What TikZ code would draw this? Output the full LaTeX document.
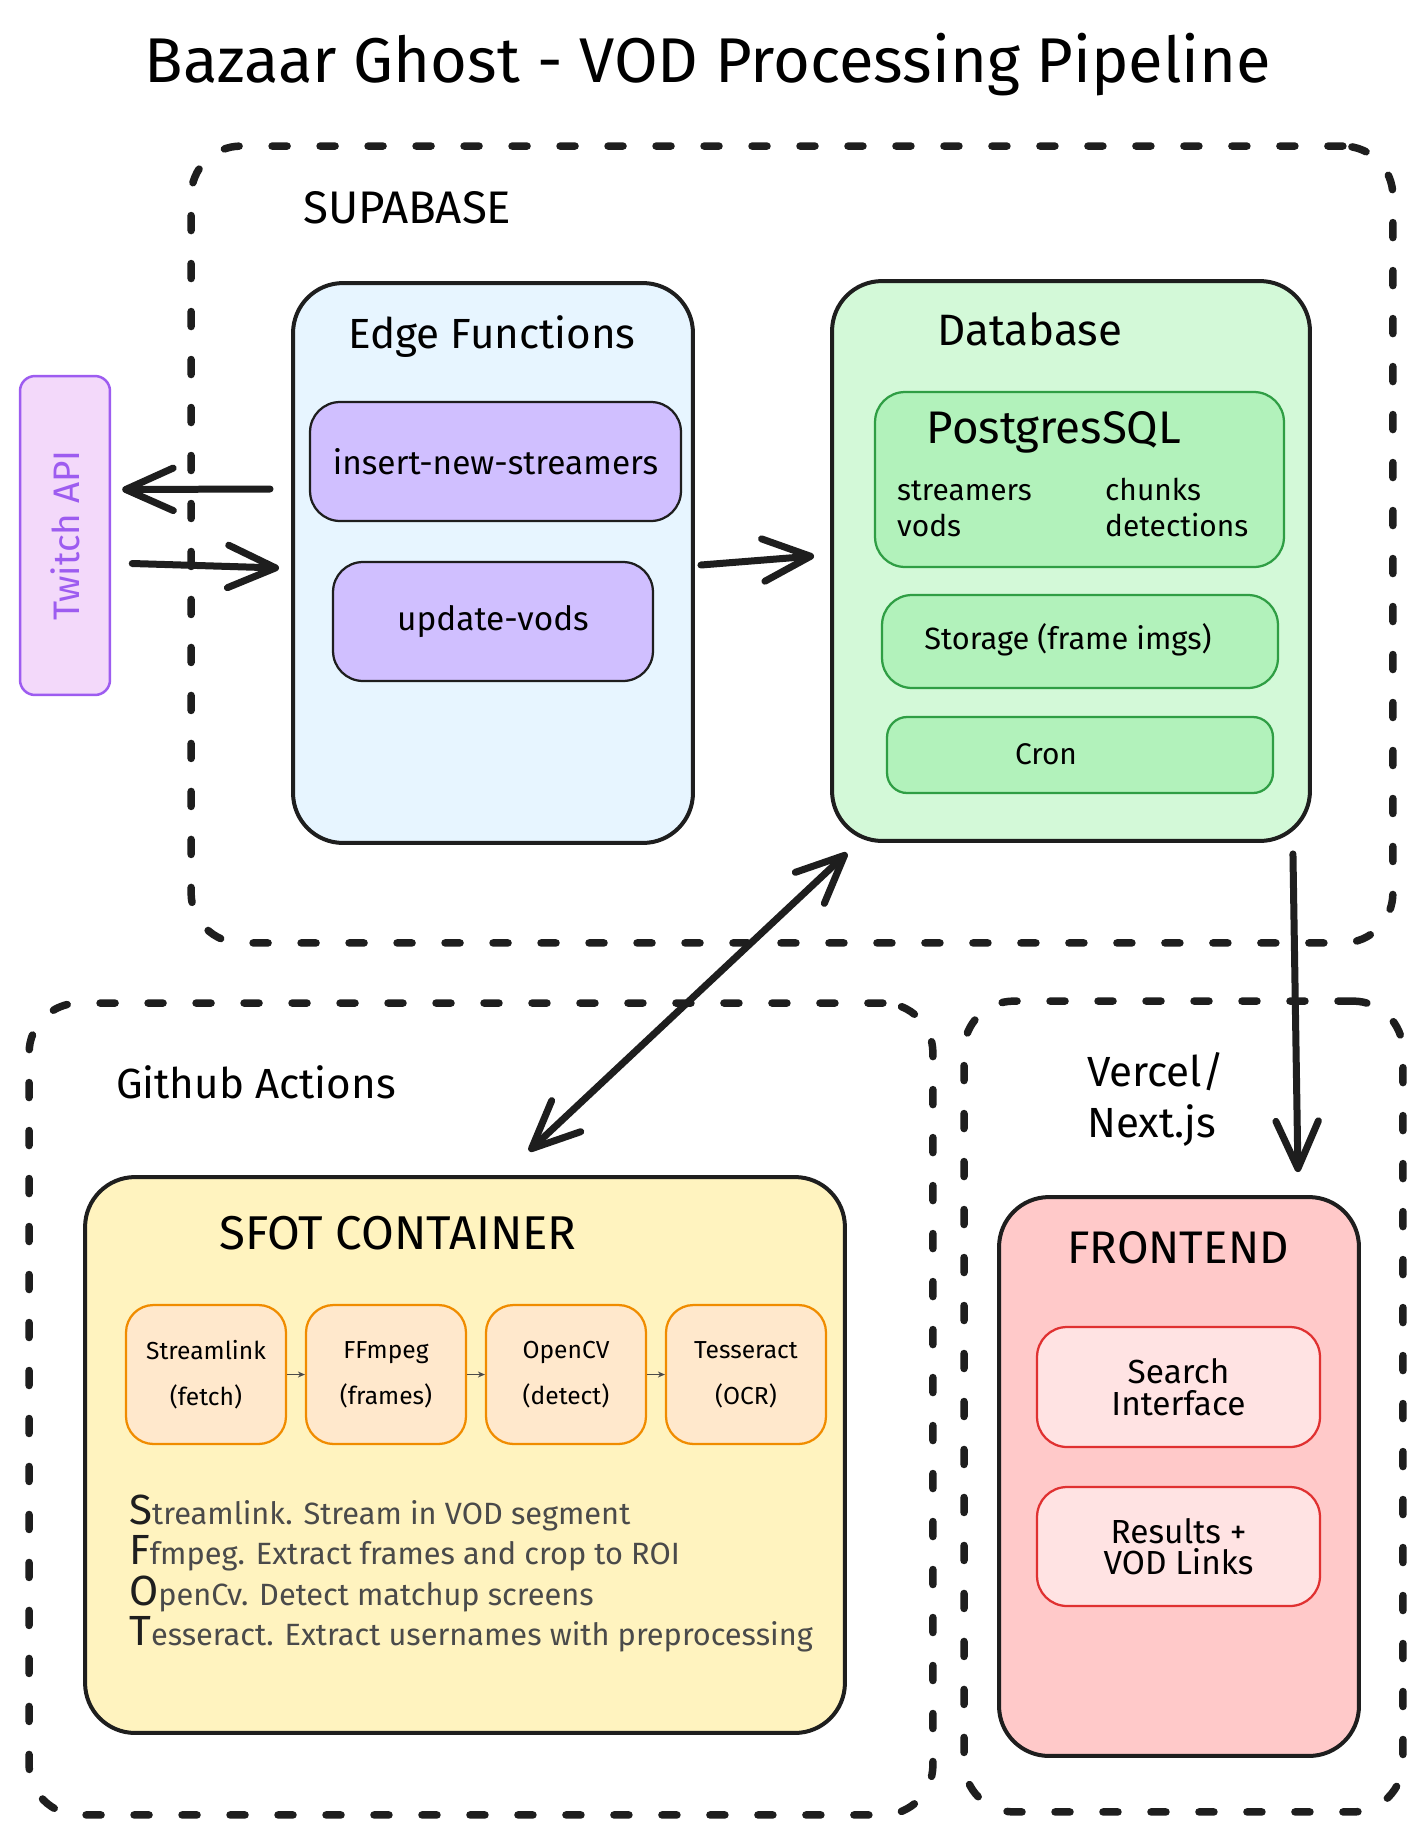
\documentclass[tikz,border=0pt]{standalone}
\usepackage{fontspec}
\setmainfont{Fira Sans}
\usetikzlibrary{arrows.meta,positioning}

\definecolor{inkblack}{HTML}{1E1E1E}
\definecolor{notegray}{HTML}{4A4A4A}
\definecolor{edgeblue}{HTML}{E7F5FF}
\definecolor{fnviolet}{HTML}{D0BFFF}
\definecolor{twitchfill}{HTML}{F3D9FA}
\definecolor{twitchline}{HTML}{9D5CF0}
\definecolor{dbgreen}{HTML}{D3F9D8}
\definecolor{tblgreen}{HTML}{B2F2BB}
\definecolor{tblline}{HTML}{2F9E44}
\definecolor{sfotyellow}{HTML}{FFF3BF}
\definecolor{stagefill}{HTML}{FFE8CC}
\definecolor{stageline}{HTML}{F08C00}
\definecolor{frontred}{HTML}{FFC9C9}
\definecolor{uifill}{HTML}{FFE3E3}
\definecolor{uiline}{HTML}{E03131}

\tikzset{
  group/.style={draw=inkblack, line width=0.15cm, line cap=round,
    dash pattern=on 0.3cm off 0.66cm, rounded corners=1cm},
  panel/.style={draw=inkblack, line width=0.08cm, rounded corners=1cm},
  item/.style={draw, line width=0.045cm, rounded corners=0.6cm, align=center},
  stage/.style={item, draw=stageline, fill=stagefill, rounded corners=0.55cm,
    minimum width=3.2cm, minimum height=2.78cm,
    font=\fontsize{14}{26}\selectfont},
  note/.style={anchor=base west, text=notegray, font=\fontsize{17.5}{17.5}\selectfont},
  arr/.style={draw=inkblack, line width=0.14cm, line cap=round,
    -{Straight Barb[length=0.95cm,width=0.85cm,round]}},
  steparr/.style={draw=notegray, line width=0.03cm, -{Stealth[length=0.14cm,width=0.12cm]}},
}

\begin{document}
\begin{tikzpicture}[x=0.02cm, y=-0.02cm]
  \useasboundingbox (0,0) rectangle (1419,1836);
  \fill[white] (0,0) rectangle (1419,1836);

  \node[font=\fontsize{36}{40}\selectfont] (title) at (708,65)
    {Bazaar Ghost - VOD Processing Pipeline};

  % dashed groups
  \node[group, minimum width=24.04cm, minimum height=15.94cm] (supabase) at (792,544.5) {};
  \node[group, minimum width=18.08cm, minimum height=16.24cm] (github) at (481,1409) {};
  \node[group, minimum width=8.78cm, minimum height=16.22cm] (vercel) at (1183.5,1406.5) {};

  \node[anchor=west, font=\fontsize{26}{26}\selectfont] (supabaselbl) at (297,208) {SUPABASE};
  \node[anchor=west, font=\fontsize{24}{24}\selectfont] (githublbl) at (110,1082) {Github Actions};
  \node[anchor=west, align=left, font=\fontsize{24}{29}\selectfont] (vercellbl) at (1081,1099)
    {Vercel/\\Next.js};

  % twitch
  \node[draw=twitchline, fill=twitchfill, line width=0.05cm, rounded corners=0.3cm,
    minimum width=1.8cm, minimum height=6.38cm] (twitch) at (65,535.5) {};
  \node[rotate=90, text=twitchline, font=\fontsize{21}{21}\selectfont] (twitchlbl)
    at (twitch.center) {Twitch API};

  % edge functions
  \node[panel, fill=edgeblue, minimum width=8cm, minimum height=11.2cm] (edge) at (493,563) {};
  \node[font=\fontsize{24}{24}\selectfont] (edgelbl) at (492,337) {Edge Functions};
  \node[item, draw=inkblack, fill=fnviolet, minimum width=7.42cm, minimum height=2.38cm,
    font=\fontsize{19}{19}\selectfont] (insert) at (495.5,461.5) {insert-new-streamers};
  \node[item, draw=inkblack, fill=fnviolet, minimum width=6.4cm, minimum height=2.38cm,
    font=\fontsize{19}{19}\selectfont] (update) at (493,621.5) {update-vods};

  % database
  \node[panel, fill=dbgreen, minimum width=9.56cm, minimum height=11.2cm] (db) at (1071,561) {};
  \node[font=\fontsize{25}{25}\selectfont] (dblbl) at (1030,329) {Database};
  \node[item, draw=tblline, fill=tblgreen, minimum width=8.18cm, minimum height=3.5cm] (postgres)
    at (1079.5,479.5) {};
  \node[font=\fontsize{26}{26}\selectfont] (pglbl) at (1054,432) {PostgresSQL};
  \node[anchor=base west, font=\fontsize{17}{17}\selectfont] (tstreamers) at (891,500) {streamers};
  \node[anchor=base west, font=\fontsize{17}{17}\selectfont] (tvods) at (891,536) {vods};
  \node[anchor=base west, font=\fontsize{17}{17}\selectfont] (tchunks) at (1099,500) {chunks};
  \node[anchor=base west, font=\fontsize{17}{17}\selectfont] (tdetections) at (1099,536) {detections};
  \node[item, draw=tblline, fill=tblgreen, minimum width=7.92cm, minimum height=1.86cm] (storage)
    at (1080,641.5) {};
  \node[font=\fontsize{17.5}{17.5}\selectfont] (storagelbl) at (1068,640) {Storage (frame imgs)};
  \node[item, draw=tblline, fill=tblgreen, rounded corners=0.4cm, minimum width=7.72cm,
    minimum height=1.52cm] (cron) at (1080,755) {};
  \node[font=\fontsize{17}{17}\selectfont] (cronlbl) at (1046,754) {Cron};

  % sfot container
  \node[panel, fill=sfotyellow, minimum width=15.2cm, minimum height=11.12cm] (sfot) at (465,1455) {};
  \node[font=\fontsize{27}{27}\selectfont] (sfotlbl) at (398,1233) {SFOT CONTAINER};
  \node[stage] (streamlink) at (206,1374.5) {Streamlink\\(fetch)};
  \node[stage] (ffmpeg) at (386,1374.5) {FFmpeg\\(frames)};
  \node[stage] (opencv) at (566,1374.5) {OpenCV\\(detect)};
  \node[stage] (tesseract) at (746,1374.5) {Tesseract\\(OCR)};
  \draw[steparr] (streamlink) -- (ffmpeg);
  \draw[steparr] (ffmpeg) -- (opencv);
  \draw[steparr] (opencv) -- (tesseract);
  \node[note] (notes) at (123,1524)
    {\textcolor{inkblack}{\fontsize{24}{24}\selectfont S}treamlink. Stream in VOD segment};
  \node[note] (notef) at (123,1564)
    {\textcolor{inkblack}{\fontsize{24}{24}\selectfont F}fmpeg. Extract frames and crop to ROI};
  \node[note] (noteo) at (123,1605)
    {\textcolor{inkblack}{\fontsize{24}{24}\selectfont O}penCv. Detect matchup screens};
  \node[note] (notet) at (123,1645)
    {\textcolor{inkblack}{\fontsize{24}{24}\selectfont T}esseract. Extract usernames with preprocessing};

  % frontend
  \node[panel, fill=frontred, minimum width=7.2cm, minimum height=11.18cm] (frontend) at (1179,1476.5) {};
  \node[font=\fontsize{26}{26}\selectfont] (frontendlbl) at (1178,1248) {FRONTEND};
  \node[item, draw=uiline, fill=uifill, minimum width=5.66cm, minimum height=2.4cm,
    font=\fontsize{19}{18}\selectfont] (search) at (1178.5,1387) {Search\\Interface};
  \node[item, draw=uiline, fill=uifill, minimum width=5.66cm, minimum height=2.38cm,
    font=\fontsize{19}{18}\selectfont] (results) at (1178.5,1546.5) {Results +\\VOD Links};

  % connectors
  \draw[arr] ([shift={(-21,-74)}]edge.west) -- ([shift={(11,-46)}]twitch.east);
  \draw[arr] ([shift={(21,28)}]twitch.east) -- ([shift={(-12,5)}]edge.west);
  \draw[arr] ([shift={(6,2)}]edge.east) -- ([shift={(-16,-5)}]db.west);
  \draw[arr, {Straight Barb[length=0.95cm,width=0.85cm,round]}-{Straight Barb[length=0.95cm,width=0.85cm,round]}]
    ([shift={(17,10)}]db.south west) -- ([shift={(64,-24)}]sfot.north);
  \draw[arr] ([shift={(-19,11)}]db.south east) -- ([shift={(-63,-23)}]frontend.north east);
\end{tikzpicture}
\end{document}
